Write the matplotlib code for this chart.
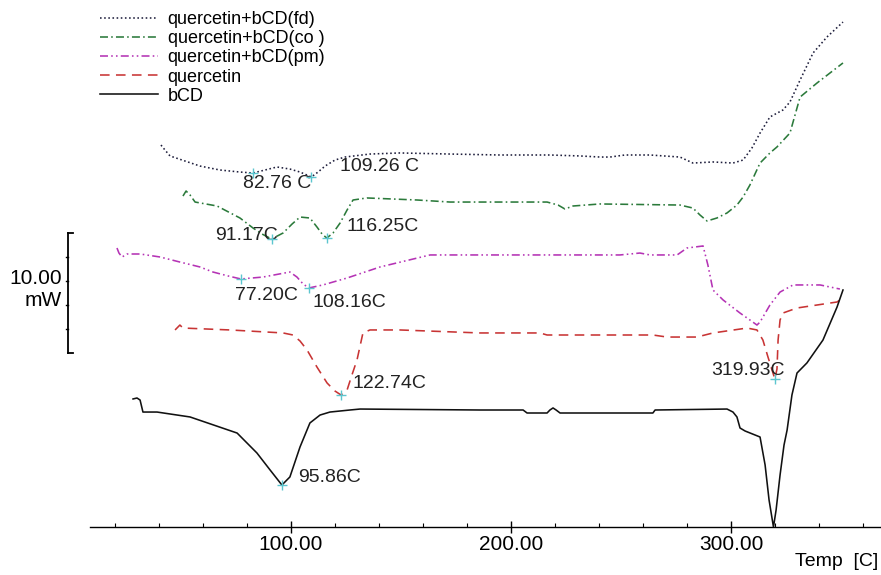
import numpy as np
import matplotlib.pyplot as plt

plt.rcParams['font.family'] = ['Liberation Sans', 'DejaVu Sans']

# DSC traces, temperature in C, heat flow in mW (curves stacked with offsets)
fd_temp = [40.9, 42.7, 45.0, 51.8, 58.6, 67.7, 76.8, 82.76, 88.2, 93.6, 99.5, 104.1,
           109.26, 112.3, 115.5, 120.0, 124.5, 135.9, 149.5, 172.3, 195.0, 217.7,
           231.4, 240.5, 245.0, 251.8, 263.2, 276.8, 282.7, 291.8, 300.9, 305.5,
           309.5, 313.2, 317.7, 323.6, 326.8, 331.4, 337.3, 343.6, 350.9]
fd_heat = [31.83, 31.42, 30.92, 30.5, 30.08, 29.75, 29.58, 29.5, 29.75, 30.0, 29.83, 29.58,
           29.17, 29.58, 30.08, 30.58, 30.83, 31.08, 31.17, 31.08, 31.0, 31.0,
           30.92, 30.83, 30.83, 31.0, 31.0, 30.83, 30.33, 30.42, 30.33, 30.58,
           31.58, 32.83, 34.17, 34.75, 35.42, 37.25, 39.5, 40.83, 42.08]

co_temp = [50.9, 52.3, 54.1, 56.4, 66.4, 76.8, 82.7, 86.8, 91.17, 96.4, 100.5, 104.1,
           108.6, 111.8, 114.1, 116.25, 119.1, 122.3, 125.5, 128.2, 134.5, 157.3,
           172.3, 195.0, 216.4, 221.4, 224.5, 228.2, 240.5, 276.8, 282.7, 285.9,
           289.1, 293.6, 298.2, 302.7, 305.5, 308.6, 313.2, 317.7, 320.9, 326.8,
           331.4, 339.1, 350.9]
co_heat = [27.58, 28.0, 27.67, 27.08, 26.75, 25.75, 24.92, 24.42, 24.0, 24.5, 25.25, 25.83,
           25.75, 25.0, 24.42, 24.08, 24.5, 25.33, 26.42, 27.25, 27.42, 27.25,
           27.08, 27.08, 27.08, 26.83, 26.5, 26.75, 26.92, 26.83, 26.58, 26.0,
           25.5, 25.75, 26.17, 26.83, 27.5, 28.5, 30.33, 31.17, 31.67, 32.83,
           35.83, 37.0, 38.67]

pm_temp = [20.9, 21.8, 23.2, 25.5, 31.4, 40.5, 49.5, 58.6, 64.5, 71.4, 77.2, 87.3,
           99.5, 102.7, 105.5, 108.16, 114.5, 125.5, 140.5, 163.2, 185.9, 249.5,
           258.6, 263.2, 275.5, 280.0, 287.3, 289.5, 291.8, 296.4, 304.1, 308.6,
           311.8, 313.2, 317.7, 322.3, 328.2, 340.5, 349.5]
pm_heat = [23.25, 22.83, 22.5, 22.75, 22.75, 22.5, 22.08, 21.67, 21.25, 20.92, 20.67, 20.83,
           21.25, 20.83, 20.25, 19.92, 20.17, 20.75, 21.67, 22.67, 22.67, 22.67,
           22.83, 22.67, 22.67, 23.25, 23.42, 21.83, 19.75, 18.92, 17.83, 17.25,
           16.83, 17.08, 18.5, 19.58, 20.17, 20.17, 19.83]

qu_temp = [47.3, 49.5, 50.9, 72.3, 96.4, 100.9, 104.1, 107.3, 111.8, 116.4, 120.0,
           122.74, 125.5, 127.7, 130.0, 132.7, 135.9, 149.5, 185.9, 213.2, 216.4,
           264.5, 270.9, 284.5, 291.8, 307.3, 311.8, 314.5, 316.8, 319.93, 320.9,
           321.4, 322.3, 323.6, 330.0, 348.2, 349.5]
qu_heat = [16.42, 16.83, 16.58, 16.42, 16.17, 16.0, 15.5, 14.75, 13.33, 12.0, 11.33,
           11.0, 11.42, 12.67, 13.92, 16.17, 16.42, 16.42, 16.17, 16.17, 16.0,
           16.0, 15.83, 15.83, 16.17, 16.58, 16.42, 15.58, 14.17, 12.33, 13.17,
           15.58, 17.25, 17.83, 18.25, 18.75, 18.92]

cd_temp = [28.2, 30.0, 31.4, 32.7, 39.1, 54.1, 75.5, 84.5, 90.5, 95.86, 99.5, 104.1,
           108.6, 113.2, 117.7, 126.8, 131.4, 185.9, 205.5, 207.3, 216.4, 217.7,
           219.1, 220.5, 222.3, 264.5, 265.5, 298.2, 300.9, 302.7, 304.1, 306.4,
           313.2, 315.5, 317.3, 319.3, 320.5, 322.3, 324.1, 325.5, 327.7, 330.0,
           334.5, 341.8, 348.2, 350.9]
cd_heat = [10.67, 10.75, 10.58, 9.58, 9.58, 9.17, 7.83, 6.17, 4.75, 3.5, 4.17, 6.67,
           8.67, 9.33, 9.58, 9.75, 9.83, 9.75, 9.75, 9.5, 9.5, 9.75,
           9.92, 9.75, 9.5, 9.5, 9.75, 9.83, 9.58, 9.17, 8.25, 8.0,
           7.5, 5.17, 2.25, 0.0, 1.42, 4.33, 6.83, 8.08, 11.0, 12.83,
           13.67, 15.58, 18.33, 19.75]

labels = ['quercetin+bCD(fd)', 'quercetin+bCD(co )', 'quercetin+bCD(pm)', 'quercetin', 'bCD']

# peak temperatures picked on each trace
peaks = [
    (0, 82.76, '82.76 C'), (0, 109.26, '109.26 C'),
    (1, 91.17, '91.17C'), (1, 116.25, '116.25C'),
    (2, 77.20, '77.20C'), (2, 108.16, '108.16C'),
    (3, 122.74, '122.74C'), (3, 319.93, '319.93C'),
    (4, 95.86, '95.86C'),
]

scale_mw = 10.0


def plot():
    fig = plt.figure(figsize=(8.81, 5.75), dpi=100)
    ax = fig.add_axes([0, 0, 1, 1])

    styles = [
        dict(color='#1e1e3c', linestyle=(0, (1, 1.6))),
        dict(color='#2b7a3b', linestyle=(0, (5, 2, 1, 2))),
        dict(color='#b533b5', linestyle=(0, (5, 2, 1, 2, 1, 2))),
        dict(color='#c83434', linestyle=(0, (6, 4))),
        dict(color='#111111', linestyle='-'),
    ]
    curves = [(fd_temp, fd_heat), (co_temp, co_heat), (pm_temp, pm_heat),
              (qu_temp, qu_heat), (cd_temp, cd_heat)]
    for (t, h), st, lab in zip(curves, styles, labels):
        ax.plot(t, h, lw=1.15, label=lab, **st)

    # peak markers and labels
    offsets = {
        '82.76 C': (-4.5, -0.9, 'left'), '109.26 C': (13.0, 0.85, 'left'),
        '91.17C': (2.9, 0.25, 'right'), '116.25C': (9.2, 1.0, 'left'),
        '77.20C': (-2.7, -1.4, 'left'), '108.16C': (1.8, -1.25, 'left'),
        '122.74C': (5.0, 1.0, 'left'), '319.93C': (4.6, 0.75, 'right'),
        '95.86C': (7.3, 0.6, 'left'),
    }
    for idx, temp, txt in peaks:
        t, h = curves[idx]
        y = np.interp(temp, t, h)
        ax.plot(temp, y, marker='+', ms=7, mew=1.0, color='#5cc6cf', zorder=5)
        dx, dy, ha = offsets[txt]
        ax.text(temp + dx, y + dy, txt, fontsize=14, ha=ha, va='center', color='#222222')

    # 10 mW scale bar
    bx, b0 = -1.4, 14.5
    ax.plot([bx, bx], [b0, b0 + scale_mw], color='black', lw=1.3)
    ax.plot([bx, bx + 2.3], [b0, b0], color='black', lw=1.3)
    ax.plot([bx, bx + 2.3], [b0 + scale_mw, b0 + scale_mw], color='black', lw=1.3)
    for k in range(1, 5):
        yk = b0 + k * scale_mw / 5
        ax.plot([bx - 0.9, bx], [yk, yk], color='black', lw=1.0)
    ax.text(-4.1, 20.7, f'{scale_mw:.2f}', fontsize=15, ha='right', va='center')
    ax.text(-4.1, 18.9, 'mW', fontsize=15, ha='right', va='center')

    ax.set_xlim(-71 / 2.2, 810 / 2.2)
    ax.set_ylim(-48 / 12, 527 / 12)

    for side in ['left', 'right', 'top']:
        ax.spines[side].set_visible(False)
    ax.spines['bottom'].set_position(('data', 0))
    ax.spines['bottom'].set_bounds(8.6, 368.2)
    ax.spines['bottom'].set_linewidth(1.0)

    ax.set_xticks([100, 200, 300])
    ax.set_xticklabels(['100.00', '200.00', '300.00'])
    ax.set_xticks(np.arange(20, 361, 20), minor=True)
    ax.tick_params(axis='x', which='major', direction='inout', length=8, width=1,
                   labelsize=15, pad=2)
    ax.tick_params(axis='x', which='minor', direction='in', length=3, width=0.8)
    ax.set_yticks([])

    ax.text(1 - 3 / 881, 1 - 562 / 575, 'Temp  [C]', transform=ax.transAxes,
            fontsize=14, ha='right', va='center')

    ax.legend(loc='upper left', bbox_to_anchor=(100 / 881, 1 - 11 / 575),
              bbox_transform=fig.transFigure, frameon=False, fontsize=13,
              handlelength=3.2, handletextpad=0.55, labelspacing=0.12,
              borderpad=0, borderaxespad=0)

    fig.savefig('out.png', dpi=100)


if __name__ == '__main__':
    plot()
